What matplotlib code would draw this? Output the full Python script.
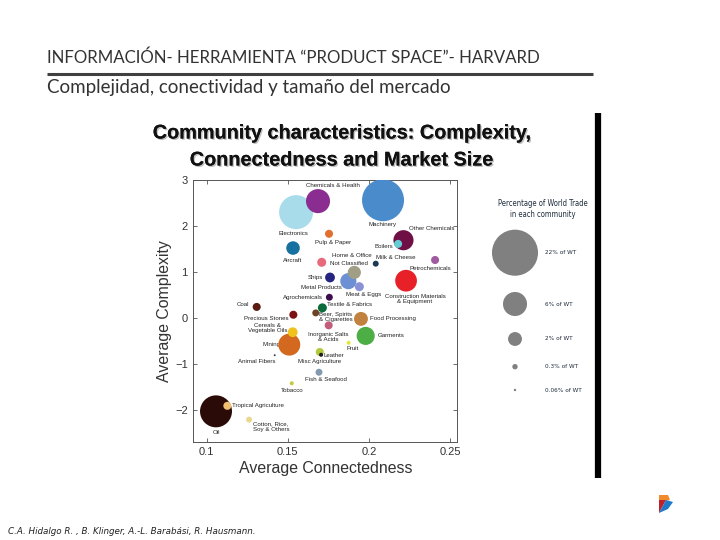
import matplotlib
matplotlib.use('Agg')
import matplotlib.pyplot as plt
import matplotlib.patheffects as pe
from matplotlib.patches import Polygon

# comunidades del product space
productos = ['Chemicals & Health', 'Electronics', 'Machinery', 'Pulp & Paper', 'Aircraft',
             'Other Chemicals', 'Boilers', 'Home & Office', 'Milk & Cheese', 'Petrochemicals',
             'Ships', 'Metal Products', 'Not Classified', 'Meat & Eggs', 'Construction Materials',
             'Agrochemicals', 'Textile & Fabrics', 'Beer, Spirits', 'Inorganic Salts', 'Food Processing',
             'Garments', 'Fruit', 'Misc Agriculture', 'Leather', 'Fish & Seafood',
             'Coal', 'Precious Stones', 'Cereals', 'Mining', 'Animal Fibers',
             'Tobacco', 'Oil', 'Tropical Agriculture', 'Cotton']
etiquetas = ['Chemicals & Health', 'Electronics', 'Machinery', 'Pulp & Paper', 'Aircraft',
             'Other Chemicals', 'Boilers', 'Home & Office', 'Milk & Cheese', 'Petrochemicals',
             'Ships', 'Metal Products', 'Not Classified', 'Meat & Eggs', 'Construction Materials\n& Equipment',
             'Agrochemicals', 'Textile & Fabrics', 'Beer, Spirits\n& Cigarettes', 'Inorganic Salts\n& Acids', 'Food Processing',
             'Garments', 'Fruit', 'Misc Agriculture', 'Leather', 'Fish & Seafood',
             'Coal', 'Precious Stones', 'Cereals &\nVegetable Oils', 'Mining', 'Animal Fibers',
             'Tobacco', 'Oil', 'Tropical Agriculture', 'Cotton, Rice,\nSoy & Others']
conectividad = [0.1686, 0.1551, 0.2087, 0.1754, 0.1532,
                0.2213, 0.2180, 0.1709, 0.2042, 0.2408,
                0.1760, 0.1873, 0.1910, 0.1941, 0.2229,
                0.1756, 0.1713, 0.1672, 0.1752, 0.1951,
                0.1980, 0.1875, 0.1697, 0.1705, 0.1692,
                0.1308, 0.1534, 0.1530, 0.1509, 0.1419,
                0.1524, 0.1057, 0.1127, 0.1261]
complejidad = [2.53, 2.29, 2.55, 1.82, 1.51,
               1.68, 1.60, 1.20, 1.17, 1.25,
               0.87, 0.79, 0.98, 0.67, 0.80,
               0.44, 0.21, 0.10, -0.17, -0.03,
               -0.40, -0.55, -0.75, -0.81, -1.19,
               0.23, 0.06, -0.32, -0.59, -0.82,
               -1.43, -2.04, -1.92, -2.22]
# porcentaje del comercio mundial
comercio = [6.0, 12.0, 18.3, 0.67, 1.9,
            4.2, 0.67, 0.84, 0.37, 0.67,
            1.0, 2.7, 1.8, 0.84, 4.9,
            0.5, 0.84, 0.5, 0.67, 2.0,
            3.4, 0.17, 0.67, 0.17, 0.5,
            0.67, 0.67, 1.0, 5.0, 0.04,
            0.17, 10.6, 0.67, 0.37]
colores = ['#8b2c90', '#a9dcea', '#4a8ccb', '#e07030', '#1670a0',
           '#6e0f45', '#66ccd4', '#e8687c', '#1e3a52', '#a05a9e',
           '#262680', '#6d8fd4', '#a19e86', '#8a92d6', '#e82028',
           '#3c0e4e', '#0b6b3a', '#6e4224', '#c45c7c', '#c0823e',
           '#4cae44', '#e6e640', '#b5c83c', '#1e1e1e', '#8399b0',
           '#5a1c12', '#7c1212', '#f2c21c', '#d2691e', '#3d3d5c',
           '#c8c844', '#2b0b08', '#f2c070', '#e8d890']

leyenda_pct = [22, 6, 2, 0.3, 0.06]
leyenda_txt = ['22% of WT', '6% of WT', '2% of WT', '0.3% of WT', '0.06% of WT']

# posicion de etiquetas (pixeles respecto a la burbuja, y hacia abajo)
pos_etiquetas = {
    'Chemicals & Health': (15, -16, 'center'), 'Electronics': (-3, 21, 'center'),
    'Machinery': (0, 24, 'center'), 'Pulp & Paper': (4, 9, 'center'),
    'Aircraft': (0, 12, 'center'), 'Other Chemicals': (6, -12, 'left'),
    'Boilers': (-5, 3, 'right'), 'Home & Office': (10, -7, 'left'),
    'Milk & Cheese': (0, -6, 'left'), 'Petrochemicals': (-5, 8, 'center'),
    'Ships': (-7, 0, 'right'), 'Metal Products': (-6, 6, 'right'),
    'Not Classified': (-5, -9, 'center'), 'Meat & Eggs': (4, 7.5, 'center'),
    'Construction Materials': (9, 18, 'center'), 'Agrochemicals': (-6, 0, 'right'),
    'Textile & Fabrics': (5, -3, 'left'), 'Beer, Spirits': (3.5, 4.5, 'left'),
    'Inorganic Salts': (0, 11.5, 'center'), 'Food Processing': (9, 0, 'left'),
    'Garments': (12, 0, 'left'), 'Fruit': (-2, 6, 'left'),
    'Misc Agriculture': (0, 10, 'center'), 'Leather': (2, 1, 'left'),
    'Fish & Seafood': (7, 7, 'center'), 'Coal': (-7, -2, 'right'),
    'Precious Stones': (-5, 4, 'right'), 'Cereals': (-25, -4, 'center'),
    'Mining': (-9, 0, 'right'), 'Animal Fibers': (-18, 6, 'center'),
    'Tobacco': (0, 7, 'center'), 'Oil': (0, 21, 'center'),
    'Tropical Agriculture': (5, 0, 'left'), 'Cotton': (4, 7, 'left'),
}

K = 50  # area del marcador por punto porcentual

fig = plt.figure(figsize=(7.2, 5.4), dpi=100)
fondo = fig.add_axes([0, 0, 1, 1])
fondo.set_xlim(0, 720)
fondo.set_ylim(540, 0)
fondo.axis('off')

fuente = ['Lato', 'DejaVu Sans']
fondo.text(47, 58, 'INFORMACIÓN- HERRAMIENTA \u201cPRODUCT SPACE\u201d- HARVARD', family=fuente,
           fontsize=12.2, color='#333333', va='center', ha='left')
fondo.plot([47, 593], [74, 74], color='#404040', lw=2.2, solid_capstyle='butt')
fondo.text(47, 87, 'Complejidad, conectividad y tamaño del mercado', family=fuente,
           fontsize=13.5, color='#333333', va='center', ha='left')
fondo.plot([598, 598], [113, 478], color='black', lw=4.5, solid_capstyle='butt')

sombra = [pe.withSimplePatchShadow(offset=(1, -1), alpha=0.25), pe.Normal()]
fondo.text(342, 133, 'Community characteristics: Complexity,', family='Liberation Sans',
           fontsize=14.3, fontweight='bold', ha='center', va='center', color='#111', path_effects=sombra)
fondo.text(342, 160, 'Connectedness and Market Size', family='Liberation Sans',
           fontsize=14.3, fontweight='bold', ha='center', va='center', color='#111', path_effects=sombra)

# leyenda de tamanos
ley_y = [252.7, 304, 339, 366.7, 390]
fondo.scatter([515] * len(leyenda_pct), ley_y, s=[K * p for p in leyenda_pct], color='#808080', lw=0)
for yy, t in zip(ley_y, leyenda_txt):
    fondo.text(545, yy, t, family='DejaVu Sans', fontstretch='condensed', fontsize=4.6,
               color='#1f2d3d', va='center', ha='left')
fondo.text(543, 209, 'Percentage of World Trade\nin each community', family='DejaVu Sans',
           fontstretch='condensed', fontsize=5.5, color='#1f2d3d', ha='center', va='center',
           linespacing=1.35)

fondo.text(8, 531, 'C.A. Hidalgo R. , B. Klinger, A.-L. Barabási, R. Hausmann.', family='DejaVu Sans',
           style='italic', fontsize=6.3, color='#222', va='center', ha='left')

# logo
fondo.add_patch(Polygon([[659, 495], [668, 495], [670, 500], [659, 501]], closed=True, color='#f08a2a', lw=0))
fondo.add_patch(Polygon([[659, 500], [666, 500], [659, 513]], closed=True, color='#c0202a', lw=0))
fondo.add_patch(Polygon([[666, 500], [673, 502], [668, 509], [659, 513]], closed=True, color='#1f78c8', lw=0))

ax = fig.add_axes([193.3 / 720, 1 - 441.7 / 540, (457.3 - 193.3) / 720, (441.7 - 179.5) / 540])
ax.set_xlim(0.0917, 0.2545)
ax.set_ylim(-2.70, 3.0)

orden = sorted(range(len(productos)), key=lambda i: -comercio[i])
ax.scatter([conectividad[i] for i in orden], [complejidad[i] for i in orden],
           s=[K * comercio[i] for i in orden], c=[colores[i] for i in orden], lw=0, zorder=3)

for nombre, etq, x, y in zip(productos, etiquetas, conectividad, complejidad):
    dx, dy, ha = pos_etiquetas[nombre]
    ax.annotate(etq, (x, y), xytext=(dx, -dy), textcoords='offset pixels', ha=ha, va='center',
                fontsize=4.4, family='Liberation Sans', color='#222', linespacing=1.05, zorder=2)

ax.set_xticks([0.1, 0.15, 0.2, 0.25])
ax.set_xticklabels(['0.1', '0.15', '0.2', '0.25'])
ax.set_yticks([-2, -1, 0, 1, 2, 3])
ax.tick_params(direction='in', length=3, width=0.6, top=True, right=True, labelsize=8,
               labelcolor='#333', color='#555', pad=4)
for lab in ax.get_xticklabels() + ax.get_yticklabels():
    lab.set_family('Liberation Sans')
for sp in ax.spines.values():
    sp.set_color('#555')
    sp.set_linewidth(0.7)
ax.set_xlabel('Average Connectedness', fontsize=11.4, family='Liberation Sans', color='#333', labelpad=3)
ax.set_ylabel('Average Complexity', fontsize=11.4, family='Liberation Sans', color='#333', labelpad=2)

plt.savefig('out.png', dpi=100)
